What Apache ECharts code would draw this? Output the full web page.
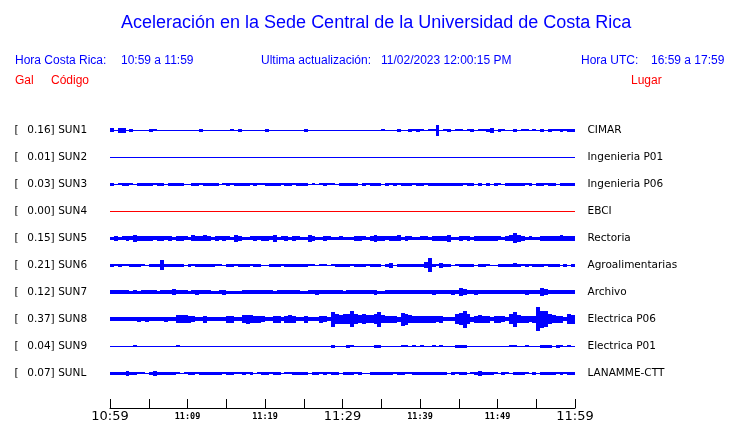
<!DOCTYPE html>
<html><head><meta charset="utf-8">
<script src="https://cdn.jsdelivr.net/npm/echarts@6/dist/echarts.min.js"></script>
<style>html,body{margin:0;padding:0;background:#fff}#c{width:740px;height:423px}</style>
</head><body><div id="c"></div>
<script>
// ---------- DATA ----------
const titleText = 'Aceleración en la Sede Central de la Universidad de Costa Rica';
const headerTexts = ['Hora Costa Rica:', '10:59 a 11:59', 'Ultima actualización:', '11/02/2023 12:00:15 PM', 'Hora UTC:', '16:59 a 17:59'];
const columnHeads = ['Gal', 'Código', 'Lugar'];
const stationCodes = ['SUN1','SUN2','SUN3','SUN4','SUN5','SUN6','SUN7','SUN8','SUN9','SUNL'];
const stationPlaces = ['CIMAR','Ingenieria P01','Ingenieria P06','EBCI','Rectoria','Agroalimentarias','Archivo','Electrica P06','Electrica P01','LANAMME-CTT'];
const peakGal = [0.16, 0.01, 0.03, 0.00, 0.15, 0.21, 0.12, 0.37, 0.04, 0.07];
const tickLabels = ['10:59','11:09','11:19','11:29','11:39','11:49','11:59'];
const spanMinutes = 60;
const binMinutes = 0.5;
// envelope amplitude (Gal) per half-minute bin
const sun1 = [
 .05,0,.07,.06,0,.04,0,0,0,0,
 .03,.02,0,0,0,0,0,0,0,0,
 0,0,0,.03,0,0,0,0,0,0,
 0,.02,0,.03,0,0,0,0,0,0,
 .03,0,0,0,0,0,0,0,0,0,
 .04,0,0,0,0,0,0,0,0,0,
 0,0,0,0,0,0,0,0,0,0,
 .01,0,0,0,.03,0,0,.03,.02,.03,
 .02,0,.02,.02,.16,0,.02,.03,0,.02,
 .02,0,.02,.03,0,.02,.02,.03,.07,0,
 .03,.02,0,0,.03,0,.02,.02,0,.02,
 0,.03,0,.03,.02,.02,.03,.02,.03,.03];
const sun2 = [
 0,0,0,0,0,0,0,0,0,0, 0,0,0,0,0,0,0,0,0,0, 0,0,0,0,0,0,0,0,0,0,
 0,0,0,0,0,0,0,0,0,0, 0,0,0,0,0,0,0,0,0,0, 0,0,0,0,0,0,0,0,0,0,
 0,0,0,0,0,0,0,0,0,0, 0,0,0,0,0,0,0,0,0,0, 0,0,0,0,0,0,0,0,0,0,
 0,0,0,0,0,0,0,0,0,0, 0,0,0,0,0,0,0,0,0,0, 0,0,0,0,0,0,0,0,0,0];
const sun3 = [
 .03,0,.02,.03,.03,.02,0,.03,.03,.03,
 .03,.02,.03,.03,0,.03,.03,.03,.03,0,
 0,.03,.03,.02,.03,.03,.03,.03,0,.02,
 .03,.02,.03,.03,.03,.03,.02,.03,.02,.02,
 .03,.03,.03,.03,.02,.03,.03,.02,.03,.03,
 .03,0,.02,0,.02,.03,.02,.02,0,.03,
 .03,.03,.03,.03,0,.03,.02,.03,.03,.03,
 0,.03,.02,.03,.02,.03,.03,.03,.02,.03,
 .03,.02,.03,.03,.03,.03,.03,.03,.03,.03,
 .03,.02,.03,.03,0,.03,0,.03,0,.03,
 .02,0,.03,.03,.03,.03,.03,.02,.03,0,
 .03,.03,.02,.03,.03,0,.03,.03,.03,.03];
const sun4 = [
 0,0,0,0,0,0,0,0,0,0, 0,0,0,0,0,0,0,0,0,0, 0,0,0,0,0,0,0,0,0,0,
 0,0,0,0,0,0,0,0,0,0, 0,0,0,0,0,0,0,0,0,0, 0,0,0,0,0,0,0,0,0,0,
 0,0,0,0,0,0,0,0,0,0, 0,0,0,0,0,0,0,0,0,0, 0,0,0,0,0,0,0,0,0,0,
 0,0,0,0,0,0,0,0,0,0, 0,0,0,0,0,0,0,0,0,0, 0,0,0,0,0,0,0,0,0,0];
const sun5 = [
 .04,.07,.04,.05,.06,.05,.09,.06,.07,.06,
 .07,.05,.06,.06,.05,.06,.04,.06,.07,.05,
 .04,.08,.07,.06,.08,.07,.04,.06,.05,.06,
 .05,.04,.10,.07,.04,.04,.05,.06,.05,.06,
 .06,.05,.09,.04,.05,.06,.04,.06,.05,.04,
 .04,.09,.06,.04,.04,.06,.05,.04,.04,.05,
 .04,.04,.04,.06,.07,.05,.04,.06,.09,.07,
 .06,.05,.06,.06,.08,.04,.06,.05,.04,.04,
 .05,.05,.04,.06,.07,.06,.06,.09,.04,.04,
 .06,.05,.06,.04,.06,.06,.07,.06,.06,.06,
 .05,.04,.07,.08,.15,.10,.06,.04,.05,.04,
 .04,.06,.06,.07,.06,.06,.08,.06,.06,.06];
const sun6 = [
 .03,.02,.03,.02,.02,.03,.03,.03,.02,0,
 .03,.03,.03,.15,.04,.03,.03,.03,.03,0,
 .03,.02,.03,.03,.03,.03,.03,.02,.02,0,
 .03,.03,.02,.03,.03,.03,.02,.03,.03,0,
 0,.03,.03,.03,.02,.03,.03,.03,.03,.03,
 .03,.02,.02,0,.02,.02,0,.02,.03,.03,
 .03,.03,.02,.03,.03,.03,.02,.03,.03,.03,
 0,.03,.06,0,.03,.03,.03,.03,.03,.03,
 .03,.08,.21,.03,.02,.07,.03,.03,0,.02,
 .03,.03,.03,.03,0,.03,.03,.02,0,0,
 .03,.03,.03,.03,.05,.03,.02,.03,.02,.03,
 .03,.03,.02,.03,.03,.03,0,.03,0,.03];
const sun7 = [
 .05,.05,.05,.05,.05,.04,.05,.04,.05,.05,
 .05,.05,.03,.05,.05,.05,.08,.05,.05,.05,
 .04,.05,.07,.05,.05,.05,.04,.04,.05,.07,
 .03,.04,.04,.04,.05,.05,.05,.05,.05,.05,
 .05,.05,.03,.05,.05,.05,.05,.05,.05,.04,
 .04,.05,.05,.07,.05,.05,.05,.05,.05,.05,
 .03,.05,.05,.05,.05,.05,.05,.05,.07,.04,
 .04,.05,.05,.05,.05,.05,.05,.05,.05,.05,
 .05,.05,.05,.06,.05,.05,.05,.05,.06,.05,
 .11,.08,.05,.05,.07,.05,.05,.05,.05,.05,
 .05,.05,.05,.05,.05,.05,.05,.06,.05,.05,
 .05,.11,.08,.05,.05,.05,.05,.05,.05,.05];
const sun8 = [
 .05,.05,.05,.05,.05,.05,.05,.065,.05,.065,
 .05,.05,.05,.05,.07,.05,.05,.12,.11,.12,
 .09,.08,.05,.05,.09,.05,.05,.05,.05,.05,
 .10,.09,.05,.05,.12,.13,.12,.10,.09,.08,
 .05,.05,.10,.09,.05,.10,.11,.09,.05,.05,
 .09,.05,.05,.05,.09,.08,.05,.22,.14,.13,
 .15,.14,.24,.15,.12,.14,.12,.11,.14,.22,
 .12,.10,.09,.10,.06,.20,.16,.12,.10,.09,
 .10,.09,.09,.10,.08,.09,.05,.05,.05,.14,
 .18,.26,.15,.06,.10,.11,.09,.10,.05,.09,
 .10,.08,.05,.15,.22,.12,.09,.10,.08,.09,
 .37,.25,.24,.15,.12,.10,.10,.05,.14,.13];
const sun9 = [
 0,0,0,0,0,0,.02,0,0,0,
 0,0,0,0,0,0,0,.02,0,0,
 0,0,0,0,0,0,0,0,0,0,
 0,0,0,0,0,0,0,0,0,0,
 0,0,0,0,0,0,0,0,0,0,
 0,0,0,0,0,0,0,.03,0,0,
 0,.03,.02,0,0,0,0,0,.03,.03,
 0,0,0,0,0,.02,.02,0,.02,0,
 .02,0,0,.02,0,.02,0,0,0,.03,
 .03,.03,0,0,0,0,0,0,0,0,
 0,0,0,.02,.02,0,0,.02,0,0,
 0,.03,.04,.04,0,.03,.02,0,.02,0];
const sunl = [
 .03,.03,.03,.03,.07,.03,.03,.02,.02,0,
 .03,.06,.03,.03,.03,.03,.03,.02,0,.02,
 .03,.03,.02,.03,.03,.03,.03,.03,.03,.02,
 .03,.03,.02,.02,.03,.02,.03,0,.02,.03,
 .03,.02,.03,.03,0,.02,.02,.03,.03,.03,
 .03,0,.03,.03,.02,.03,.02,.03,.03,0,
 .03,.03,.03,.02,.03,0,0,.03,.03,.03,
 .03,.03,.03,.02,.03,.03,.02,.02,.03,.03,
 .03,.03,.03,.03,.03,.03,.03,0,.03,.02,
 .03,.03,0,.02,.03,.06,.03,.03,.03,.02,
 0,.03,.02,0,.03,.03,.03,.02,0,.03,
 0,.03,.03,.03,.03,.02,.03,.02,.03,.03];
const traces = [sun1, sun2, sun3, sun4, sun5, sun6, sun7, sun8, sun9, sunl];

// ---------- STYLE / LAYOUT ----------
const traceColors = ['#0000ff','#0000ff','#0000ff','#ff0000','#0000ff','#0000ff','#0000ff','#0000ff','#0000ff','#0000ff'];
const ROW_GAP = 0.87; // Gal between trace baselines
const blue = '#0000ff', red = '#ff0000';
const sansHead = '"Liberation Sans", Arial, sans-serif';
const sansLbl = '"DejaVu Sans", sans-serif';
const lblSize = 10.5;

const seriesData = [];
traces.forEach((arr, row) => {
  arr.forEach((amp, i) => seriesData.push([i * binMinutes, row, amp]));
});

function renderItem(params, api) {
  const t0 = api.value(0), row = api.value(1), amp = api.value(2);
  const yc = (row + 0.5) * ROW_GAP;
  const pA = api.coord([t0, yc - amp]);
  const pB = api.coord([t0 + binMinutes, yc + amp]);
  const pC = api.coord([t0, yc]);
  const x0 = Math.round(pA[0]), x1 = Math.round(pB[0]);
  const h = Math.max(1, Math.round(Math.abs(pB[1] - pA[1]) + 1));
  const y = Math.round(pC[1] - h / 2);
  return { type: 'rect', shape: { x: x0, y: y, width: x1 - x0, height: h },
           style: { fill: traceColors[row] } };
}

function hdr(text, x, y, color, size, font) {
  return { type: 'text', x: x, y: y, silent: true,
    style: { text: text, fill: color, fontSize: size, fontFamily: font || sansHead, align: 'left', verticalAlign: 'middle' } };
}

const chart = echarts.init(document.getElementById('c'), null, { renderer: 'canvas' });
chart.setOption({
  animation: false,
  backgroundColor: '#fff',
  graphic: [
    hdr(titleText, 121, 23, blue, 18),
    hdr(headerTexts[0], 15, 61, blue, 12),
    hdr(headerTexts[1], 121, 61, blue, 12),
    hdr(headerTexts[2], 261, 61, blue, 12),
    hdr(headerTexts[3], 381, 61, blue, 12),
    hdr(headerTexts[4], 581, 61, blue, 12),
    hdr(headerTexts[5], 651, 61, blue, 12),
    hdr(columnHeads[0], 15, 81, red, 12),
    hdr(columnHeads[1], 51, 81, red, 12),
    hdr(columnHeads[2], 631, 81, red, 12)
  ],
  grid: [
    { left: 110, right: 165, top: 116.5, bottom: 36.5 },
    { left: 110, right: 165, top: 390, bottom: 14 }
  ],
  xAxis: [
    { gridIndex: 0, type: 'value', min: 0, max: spanMinutes, show: false },
    { gridIndex: 1, type: 'value', min: 0, max: spanMinutes, interval: 5,
      axisLine: { show: true, lineStyle: { color: '#000', width: 1 } },
      axisTick: { show: true, inside: true, length: 9, lineStyle: { color: '#000', width: 1 } },
      splitLine: { show: false },
      axisLabel: {
        margin: 1, color: '#000', showMinLabel: true, showMaxLabel: true,
        formatter: function (v) {
          if (v % 10 !== 0) return '';
          const s = tickLabels[v / 10];
          return v % 30 === 0 ? '{maj|' + s + '}' : '{min|' + s + '}';
        },
        rich: {
          maj: { fontFamily: sansLbl, fontSize: 13, lineHeight: 15, color: '#000' },
          min: { fontFamily: '"DejaVu Sans Mono", monospace', fontSize: 8.5, fontWeight: 'bold', lineHeight: 15, color: '#000' }
        }
      }
    }
  ],
  yAxis: [
    { gridIndex: 0, type: 'category', position: 'left', inverse: true, data: stationCodes,
      axisLine: { show: false }, axisTick: { show: false }, splitLine: { show: false },
      axisLabel: { interval: 0, align: 'left', margin: 95.5, color: '#000',
        formatter: function (v, i) { return '{b|[}{v|' + peakGal[i].toFixed(2) + ']}{c|' + v + '}'; },
        rich: {
          b: { width: 12.7, fontFamily: sansLbl, fontSize: lblSize, color: '#000' },
          v: { width: 31, fontFamily: sansLbl, fontSize: lblSize, color: '#000' },
          c: { fontFamily: sansLbl, fontSize: lblSize, color: '#000' }
        } } },
    { gridIndex: 0, type: 'category', position: 'right', inverse: true, data: stationPlaces,
      axisLine: { show: false }, axisTick: { show: false }, splitLine: { show: false },
      axisLabel: { interval: 0, margin: 12.5, color: '#000', fontFamily: sansLbl, fontSize: lblSize } },
    { gridIndex: 0, type: 'value', min: 0, max: ROW_GAP * stationCodes.length, inverse: true, show: false },
    { gridIndex: 1, type: 'value', show: false }
  ],
  series: [{
    type: 'custom', xAxisIndex: 0, yAxisIndex: 2, data: seriesData,
    renderItem: renderItem, silent: true
  }]
});
</script></body></html>
